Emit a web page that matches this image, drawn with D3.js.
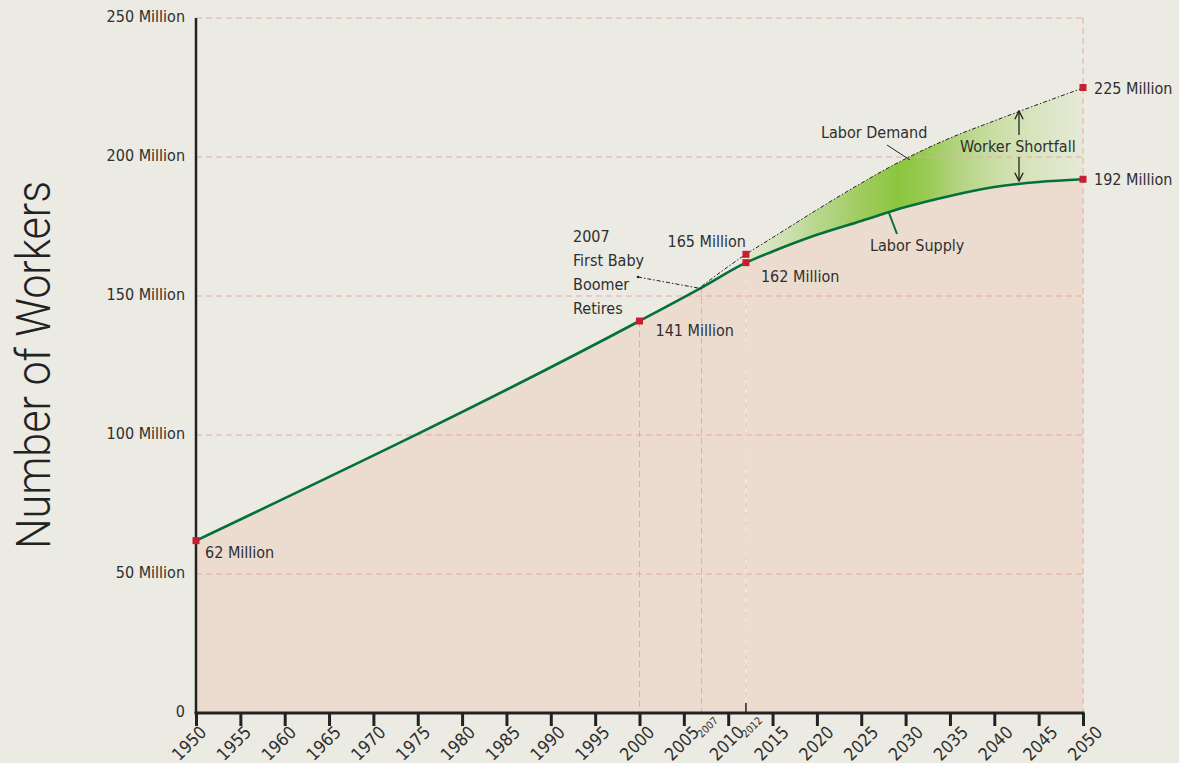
<!DOCTYPE html>
<html><head><meta charset="utf-8">
<script src="https://cdn.jsdelivr.net/npm/d3@7"></script>
<style>
body{margin:0;background:#ebeae3}
text{font-family:"Liberation Sans Narrow","DejaVu Sans Condensed","Roboto Condensed",sans-serif;fill:#2f2f2f}
</style></head><body>
<svg id="c" width="1179" height="763"></svg>
<script>
// ---- data ----
const supplyYears  = [1950, 2000, 2007, 2012, 2015, 2020, 2025, 2030, 2035, 2040, 2045, 2050];
const supplyValues = [62,   141,  153,  162,  166,  172,  177,  182,  186,  189.2,191,  192];
const demandYears  = [2007, 2012, 2015, 2020, 2025, 2030, 2035, 2040, 2045, 2050];
const demandValues = [153.5,165,  171,  181,  190.6,199.4,206.8,213,  219,  224.8];
const yTicks = [0, 50, 100, 150, 200, 250];
const yTickLabels = ["0", "50 Million", "100 Million", "150 Million", "200 Million", "250 Million"];
const xTicks = [1950,1955,1960,1965,1970,1975,1980,1985,1990,1995,2000,2005,2010,2015,2020,2025,2030,2035,2040,2045,2050];
const xTickLabels = ["1950","1955","1960","1965","1970","1975","1980","1985","1990","1995","2000","2005","2010","2015","2020","2025","2030","2035","2040","2045","2050"];
const smallYears = [2007, 2012];
const smallYearLabels = ["2007", "2012"];
const markerYears  = [1950, 2000, 2012, 2012, 2050, 2050];
const markerValues = [62,   141,  162,  165,  192,  225];
const markerLabels = ["62 Million", "141 Million", "162 Million", "165 Million", "192  Million", "225  Million"];

const svg = d3.select("#c");
const x = d3.scaleLinear().domain([1950, 2050]).range([196, 1083]);
const xLab = d3.scaleLinear().domain([1950, 2050]).range([189, 1085]);
const y = d3.scaleLinear().domain([0, 250]).range([713, 18]);

const supply = supplyYears.map((d,i)=>({t:d, v:supplyValues[i]}));
const demand = demandYears.map((d,i)=>({t:d, v:demandValues[i]}));
const curve = d3.curveMonotoneX;

// gradient
const defs = svg.append("defs");
const grad = defs.append("linearGradient").attr("id","g").attr("gradientUnits","userSpaceOnUse")
  .attr("x1", x(2012)).attr("x2", x(2050)).attr("y1",0).attr("y2",0);
[[0,"#e2e9d1"],[0.12,"#cde0b0"],[0.22,"#b6d68a"],[0.34,"#a0cc60"],[0.45,"#8cc63f"],[0.53,"#97ca52"],[0.63,"#b3d482"],[0.76,"#cde0ab"],[0.9,"#dde6c6"],[1,"#e6e9d8"]]
  .forEach(s=>grad.append("stop").attr("offset",s[0]).attr("stop-color",s[1]));

// area under supply
svg.append("path").datum(supply)
  .attr("d", d3.area().x(d=>x(d.t)).y0(y(0)).y1(d=>y(d.v)).curve(curve))
  .attr("fill","#ecdccf");

// shortfall area
const gap = demand.filter(d=>d.t>=2012).map(d=>({t:d.t, hi:d.v, lo:supplyValues[supplyYears.indexOf(d.t)]}));
svg.append("path").datum(gap)
  .attr("d", d3.area().x(d=>x(d.t)).y0(d=>y(d.lo)).y1(d=>y(d.hi)).curve(curve))
  .attr("fill","url(#g)");

// grid
const gridCol = "#e9a8a8";
svg.append("g").selectAll("line").data(yTicks.filter(d=>d>0)).join("line")
  .attr("x1", x(1950)).attr("x2", x(2050)).attr("y1", d=>y(d)).attr("y2", d=>y(d))
  .attr("stroke", gridCol).attr("stroke-width",1).attr("stroke-dasharray","6,4");
const vGrid = [[2000,141],[2007,153],[2050,250]];
svg.append("g").selectAll("line").data(vGrid).join("line")
  .attr("x1", d=>x(d[0])).attr("x2", d=>x(d[0])).attr("y1", d=>y(d[1])).attr("y2", y(0))
  .attr("stroke", gridCol).attr("stroke-width",1).attr("stroke-dasharray","6,4");
svg.append("line").attr("x1",x(2012)).attr("x2",x(2012)).attr("y1",y(165)).attr("y2",y(0))
  .attr("stroke","#f6f1ec").attr("stroke-width",1.2).attr("stroke-dasharray","6,3");
svg.append("line").attr("x1",x(2012)).attr("x2",x(2012)).attr("y1",y(162)).attr("y2",y(0))
  .attr("stroke",gridCol).attr("stroke-width",0.8).attr("stroke-dasharray","6,4").attr("opacity",0.6);

// demand line
svg.append("path").datum(demand)
  .attr("d", d3.line().x(d=>x(d.t)).y(d=>y(d.v)).curve(curve))
  .attr("fill","none").attr("stroke","#222").attr("stroke-width",1).attr("stroke-dasharray","4,2,1.5,2");

// supply line
svg.append("path").datum(supply)
  .attr("d", d3.line().x(d=>x(d.t)).y(d=>y(d.v)).curve(curve))
  .attr("fill","none").attr("stroke","#04703a").attr("stroke-width",2.6);

// axes
const ax = svg.append("g").attr("transform",`translate(0,${y(0)})`)
  .call(d3.axisBottom(x).tickValues(xTicks).tickSize(13).tickFormat(""));
ax.select(".domain").attr("stroke","#222").attr("stroke-width",3).attr("d",`M${x(1950)-1.5},0H${x(2050)+1.5}`);
ax.selectAll(".tick line").attr("stroke","#222").attr("stroke-width",3);
svg.append("g").selectAll("text").data(xTicks).join("text")
  .attr("transform", d=>`translate(${xLab(d)},743) rotate(-45)`)
  .attr("text-anchor","middle").attr("dy","0.36em")
  .style("font-size","17.5px").text((d,i)=>xTickLabels[i]);
// small 2012 tick up
svg.append("line").attr("x1",x(2012)).attr("x2",x(2012)).attr("y1",y(0)).attr("y2",y(0)-10)
  .attr("stroke","#222").attr("stroke-width",1.5);
// small year labels
svg.append("g").selectAll("text").data(smallYears).join("text")
  .attr("transform", d=>`translate(${x(d)+6},727) rotate(-45)`)
  .attr("text-anchor","middle").attr("dy","0.36em")
  .style("font-size","10.5px").text((d,i)=>smallYearLabels[i]);

svg.append("line").attr("x1",x(1950)).attr("x2",x(1950)).attr("y1",y(250)).attr("y2",y(0))
  .attr("stroke","#222").attr("stroke-width",2.5);

// y labels
svg.append("g").selectAll("text").data(yTicks).join("text")
  .attr("x",185).attr("y",d=>y(d)-2).attr("dy","0.35em").attr("text-anchor","end")
  .style("font-size","16px").text((d,i)=>yTickLabels[i]);

// y title
svg.append("text").attr("transform",`translate(50,365) rotate(-90)`).attr("text-anchor","middle")
  .attr("textLength",368).attr("lengthAdjust","spacingAndGlyphs")
  .style("font-size","48px").style("font-family","Roboto, 'Open Sans', sans-serif").style("font-weight",300).style("fill","#222")
  .text("Number of Workers");

// markers
svg.append("g").selectAll("rect").data(markerYears.map((t,i)=>({t, v:markerValues[i]}))).join("rect")
  .attr("x",d=>x(d.t)-3.5).attr("y",d=>y(d.v)-3.5).attr("width",7).attr("height",7).attr("fill","#c81f30");

// marker labels
const labOff = [[9,17,"start"],[16,15,"start"],[15,19,"start"],[0,-7,"end"],[11,6,"start"],[11,6,"start"]];
svg.append("g").selectAll("text").data(markerLabels).join("text")
  .attr("x",(d,i)=>x(markerYears[i])+labOff[i][0]).attr("y",(d,i)=>y(markerValues[i])+labOff[i][1])
  .attr("text-anchor",(d,i)=>labOff[i][2]).style("font-size","16px").text(d=>d);

// 2007 annotation
const ann = svg.append("text").attr("x",573).attr("y",242).style("font-size","16px");
["2007","First Baby","Boomer","Retires"].forEach((s,i)=>ann.append("tspan").attr("x",573).attr("dy",i?24:0).text(s));
svg.append("circle").attr("cx",638).attr("cy",277).attr("r",1.3).attr("fill","#222");
svg.append("line").attr("x1",638).attr("y1",277).attr("x2",x(2007)).attr("y2",y(153)+1)
  .attr("stroke","#222").attr("stroke-width",1).attr("stroke-dasharray","4,2,1.5,2");

// Labor demand
svg.append("text").attr("x",821).attr("y",138).style("font-size","16px").text("Labor Demand");
svg.append("line").attr("x1",887).attr("y1",145).attr("x2",910).attr("y2",160).attr("stroke","#222").attr("stroke-width",1);
// Labor supply
svg.append("text").attr("x",870).attr("y",251).style("font-size","16px").text("Labor Supply");
svg.append("line").attr("x1",889).attr("y1",213).attr("x2",897).attr("y2",234).attr("stroke","#04703a").attr("stroke-width",2);
// Worker shortfall
svg.append("text").attr("x",960).attr("y",152).style("font-size","16px").text("Worker Shortfall");
defs.append("marker").attr("id","ah").attr("viewBox","0 0 10 10").attr("refX",9).attr("refY",5)
  .attr("markerWidth",8).attr("markerHeight",8).attr("orient","auto-start-reverse")
  .append("path").attr("d","M1,1 L9,5 L1,9").attr("fill","none").attr("stroke","#222").attr("stroke-width",1.3);
svg.append("line").attr("x1",1019).attr("x2",1019).attr("y1",135).attr("y2",111).attr("stroke","#222").attr("stroke-width",1.3).attr("marker-end","url(#ah)");
svg.append("line").attr("x1",1019).attr("x2",1019).attr("y1",157).attr("y2",181).attr("stroke","#222").attr("stroke-width",1.3).attr("marker-end","url(#ah)");
</script></body></html>
